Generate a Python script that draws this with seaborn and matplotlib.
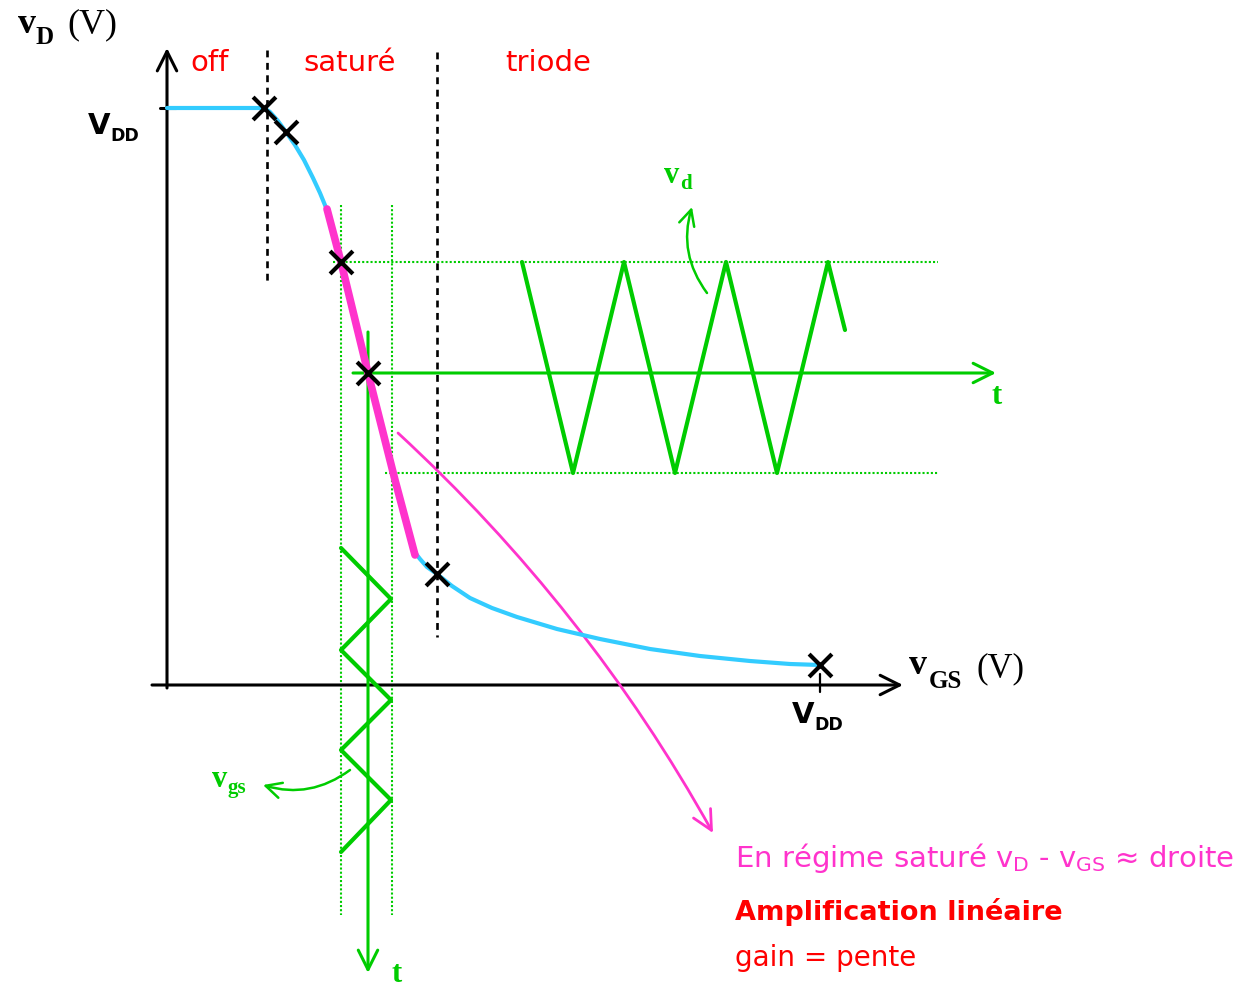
import seaborn as sns
import matplotlib.pyplot as plt

# drawing units = pixels of the 1247x990 sketch, y axis pointing down

# transfer curve vD = f(vGS)
curve_x = [167, 264, 270, 278, 286, 295, 304, 313, 320, 327, 341, 368, 395, 413,
           420, 427, 437, 452, 470, 492, 517, 557, 600, 650, 700, 750, 790, 820]
curve_y = [108, 108, 112, 121, 132, 145, 160, 178, 193, 210, 262, 373, 480, 550,
           559, 567, 574, 586, 598, 608, 617, 629, 639, 649, 656, 661, 664, 665]

# linear (saturated) part
sat_x = [327, 341, 368, 395, 415]
sat_y = [209, 262, 373, 480, 555]

# marked points
cross_x = [264, 286, 341, 368, 437, 820]
cross_y = [108, 132, 262, 373, 574, 665]

# output signal vd(t), horizontal time axis
vd_t = [522, 573, 624, 675, 726, 777, 828, 845]
vd_v = [262, 473, 262, 473, 262, 473, 262, 330]

# input signal vgs(t), vertical time axis
vgs_v = [341, 391, 341, 391, 341, 391, 341]
vgs_t = [548, 599, 650, 700, 750, 800, 852]

region_labels = ["off", "saturé", "triode"]
region_x = [190, 303, 505]
region_limits = [267, 437]

CYAN = "#33ccff"
PINK = "#ff33cc"
GREEN = "#00cc00"
RED = "#ff0000"

sns.set_style("white")
plt.rcParams["text.color"] = "black"

fig = plt.figure(figsize=(12.47, 9.9), dpi=100)
ax = fig.add_axes([0, 0, 1, 1])
ax.set_xlim(0, 1247)
ax.set_ylim(990, 0)
ax.axis("off")


def arrow(x0, y0, x1, y1, color="black", lw=2, ms=20, rad=0.0, z=3):
    ax.annotate("", xy=(x1, y1), xytext=(x0, y0),
                arrowprops=dict(arrowstyle="->,head_length=0.7,head_width=0.35",
                                color=color, lw=lw, mutation_scale=ms,
                                shrinkA=0, shrinkB=0,
                                connectionstyle=f"arc3,rad={rad}"),
                zorder=z)


# main axes
arrow(167, 688, 167, 48, lw=2.2)
arrow(152, 685, 903, 685, lw=2.2)
ax.plot([160, 176], [108, 108], color="black", lw=2.2)
ax.plot([820, 820], [674, 692], color="black", lw=1.6)

# region limits
for xl, top, bot in zip(region_limits, [50, 52], [283, 637]):
    ax.plot([xl, xl], [top, bot], color="black", lw=1.9, ls=(0, (2.6, 2.1)), zorder=6)
for lab, xl in zip(region_labels, region_x):
    ax.text(xl, 71, lab, color=RED, fontsize=21, family="DejaVu Sans", va="baseline")

# green guides
for xg in [341, 392]:
    ax.plot([xg, xg], [205, 915], color=GREEN, lw=1.5, ls=(0, (1, 1)))
ax.plot([333, 938], [262, 262], color=GREEN, lw=1.5, ls=(0, (1, 1)))
ax.plot([385, 938], [473, 473], color=GREEN, lw=1.5, ls=(0, (1, 1)))

# time axes
arrow(353, 373, 996, 373, color=GREEN, lw=2.2, ms=20)
arrow(368, 332, 368, 973, color=GREEN, lw=2.2, ms=20)

# curve
sns.lineplot(x=curve_x, y=curve_y, sort=False, estimator=None,
             color=CYAN, lw=3, ax=ax, zorder=4)
sns.lineplot(x=sat_x, y=sat_y, sort=False, estimator=None,
             color=PINK, lw=5.5, ax=ax, zorder=5)

# signals
sns.lineplot(x=vd_t, y=vd_v, sort=False, estimator=None,
             color=GREEN, lw=3, ax=ax, zorder=4)
sns.lineplot(x=vgs_v, y=vgs_t, sort=False, estimator=None,
             color=GREEN, lw=3, ax=ax, zorder=4)

sns.scatterplot(x=cross_x, y=cross_y, marker="x", s=270, color="black",
                linewidth=3, ax=ax, zorder=7)

# curved pointers
arrow(707, 293, 692, 207, color=GREEN, lw=1.8, ms=16, rad=-0.25)
arrow(350, 770, 263, 785, color=GREEN, lw=1.8, ms=16, rad=-0.25)
arrow(398, 433, 713, 833, color=PINK, lw=2, ms=20, rad=-0.08)

# axis labels (serif)
serif = "Liberation Serif"
ax.text(18, 33, "v", fontsize=26, family=serif, weight="bold", va="baseline")
ax.text(36, 44, "D", fontsize=18, family=serif, weight="bold", va="baseline")
ax.text(67, 33, "(V)", fontsize=26, family=serif, va="baseline")

ax.text(909, 674, "v", fontsize=26, family=serif, weight="bold", va="baseline")
ax.text(929, 688, "GS", fontsize=18, family=serif, weight="bold", va="baseline")
ax.text(977, 677, "(V)", fontsize=25, family=serif, va="baseline")

ax.text(664, 183, "v", fontsize=22, family=serif, weight="bold", color=GREEN, va="baseline")
ax.text(680, 189, "d", fontsize=15, family=serif, weight="bold", color=GREEN, va="baseline")
ax.text(212, 787, "v", fontsize=22, family=serif, weight="bold", color=GREEN, va="baseline")
ax.text(228, 793, "gs", fontsize=15, family=serif, weight="bold", color=GREEN, va="baseline")
ax.text(992, 404, "t", fontsize=22, family=serif, weight="bold", color=GREEN, va="baseline")
ax.text(391, 982, "t", fontsize=22, family=serif, weight="bold", color=GREEN, va="baseline")

# VDD labels
for xv, yv in [(88, 134), (792, 723)]:
    ax.text(xv, yv, "V", fontsize=21, family="DejaVu Sans", weight="bold", va="baseline")
    ax.text(xv + 22, yv + 7, "DD", fontsize=12.5, family="DejaVu Sans", weight="bold", va="baseline")

# comments
ax.text(735, 867, r"En régime saturé v$_\mathregular{D}$ - v$_\mathregular{GS}$ ≈ droite",
        color=PINK, fontsize=21, family="DejaVu Sans", va="baseline")
ax.text(735, 920, "Amplification linéaire", color=RED, fontsize=19.5,
        family="DejaVu Sans", weight="bold", va="baseline")
ax.text(735, 966, "gain = pente", color=RED, fontsize=20,
        family="DejaVu Sans", va="baseline")

fig.savefig("out.png", dpi=100)
